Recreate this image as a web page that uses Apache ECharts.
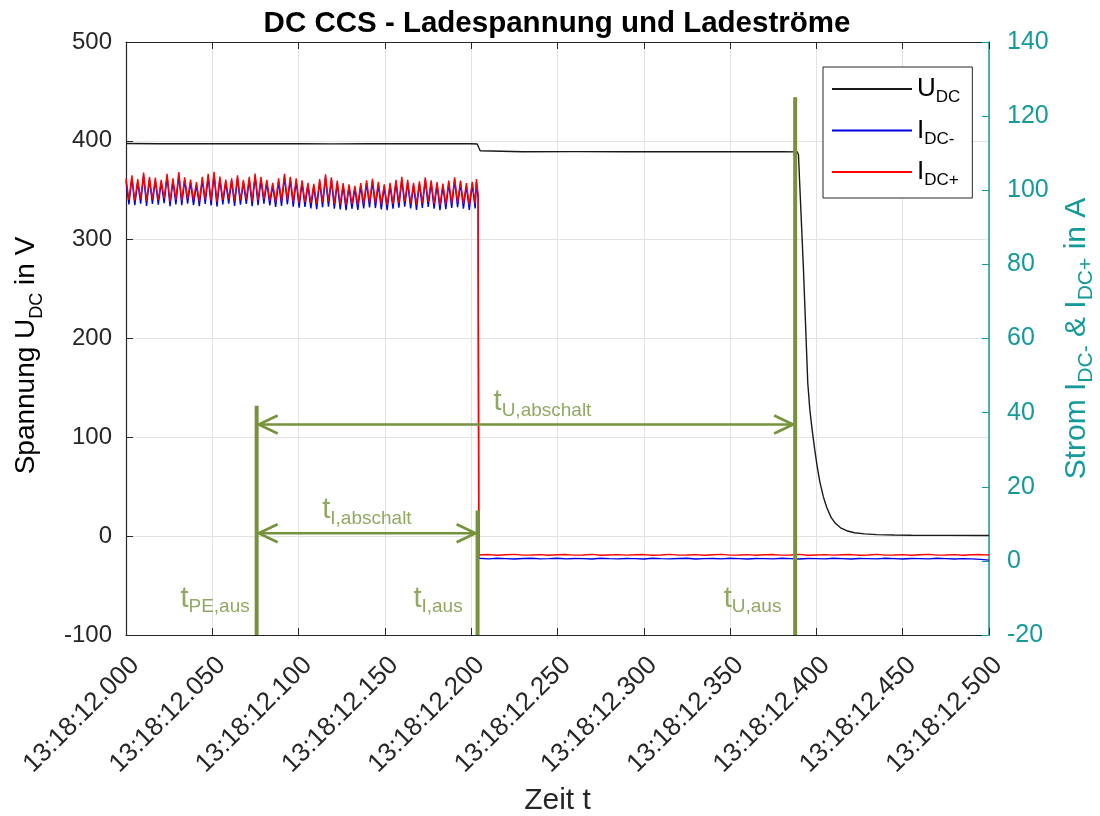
<!DOCTYPE html>
<html>
<head>
<meta charset="utf-8">
<script src="https://cdn.jsdelivr.net/npm/echarts@6/dist/echarts.min.js"></script>
<style>html,body{margin:0;padding:0;background:#fff}#chart{width:1100px;height:816px}</style>
</head>
<body>
<div id="chart"></div>
<script>
// ---------- data ----------
const timeLabels = ['13:18:12.000','13:18:12.050','13:18:12.100','13:18:12.150','13:18:12.200','13:18:12.250','13:18:12.300','13:18:12.350','13:18:12.400','13:18:12.450','13:18:12.500'];
const xTickStep = 0.05; // seconds after 13:18:12.000

// DC voltage (left axis, V)
const uTimes  = [0, 0.02, 0.04, 0.06, 0.08, 0.10, 0.12, 0.14, 0.16, 0.18, 0.20, 0.2035, 0.2043, 0.2052, 0.2062, 0.23, 0.26, 0.29, 0.32, 0.35, 0.38, 0.3890, 0.3896, 0.3925, 0.3950, 0.3962, 0.3975, 0.3990, 0.4005, 0.4020, 0.4040, 0.4060, 0.4085, 0.4110, 0.4140, 0.4175, 0.4220, 0.4280, 0.4350, 0.4450, 0.4550, 0.4750, 0.5000];
const uValues = [397.3, 397.1, 397.2, 397.0, 397.2, 397.1, 396.9, 397.1, 397.0, 397.1, 397.0, 396.8, 393.5, 390.0, 389.3, 389.0, 389.1, 389.0, 388.9, 389.0, 388.9, 388.8, 386, 270, 155, 128, 108, 88, 70, 55, 40, 29, 19, 13, 8.5, 5.5, 3.5, 2.3, 1.6, 1.2, 1.0, 0.8, 0.6];

// Currents (right axis, A): ripple before switch-off, read as alternating peaks / troughs
const rippleHalfPeriod = 0.0017;
const redPeaks = [103.2,104.0,103.0,104.8,103.6,103.4,102.8,104.4,103.2,104.9,103.5,102.9,102.2,103.6,104.4,105.0,103.7,102.9,103.2,104.0,102.8,103.6,104.5,103.6,102.8,102.0,103.2,104.4,103.6,103.2,102.7,102.0,101.7,103.0,104.3,103.5,102.6,101.9,101.6,101.2,101.9,102.7,103.1,102.3,101.6,102.0,102.8,103.6,102.8,102.0,102.4,103.5,102.7,102.2,101.8,102.6,103.5,102.6,101.9,102.3];
const redTroughs = [97.4,97.2,97.6,97.1,97.5,97.3,97.8,97.0,97.4,97.2,97.6,97.3,97.0,97.5,97.2,96.9,97.4,97.6,97.1,97.3,97.5,97.0,97.3,97.6,97.2,96.8,97.1,97.4,96.9,96.6,96.8,96.5,96.3,96.7,96.9,96.4,96.2,96.0,96.3,96.1,96.4,96.7,96.5,96.2,96.0,96.3,96.6,96.9,96.4,96.1,96.5,96.8,96.3,96.0,96.2,96.5,96.7,96.3,96.1,96.4];
const bluePeaks = [102.5,103.3,102.2,104.0,102.9,102.6,102.1,103.7,102.5,104.1,102.8,102.2,101.5,102.9,103.6,104.3,103.0,102.2,102.5,103.3,102.1,102.8,103.8,102.9,102.1,101.3,102.4,103.7,102.9,102.5,102.0,101.3,101.0,102.3,103.5,102.8,101.9,101.2,100.9,100.5,101.2,102.0,102.4,101.6,100.9,101.3,102.1,102.9,102.1,101.3,101.7,102.8,102.0,101.5,101.1,101.9,102.8,101.9,101.2,101.6];
const blueTroughs = [96.2,96.0,96.4,95.8,96.3,96.1,96.5,95.7,96.2,96.0,96.4,96.0,95.7,96.3,95.9,95.6,96.2,96.4,95.8,96.1,96.3,95.7,96.0,96.4,95.9,95.5,95.8,96.2,95.6,95.3,95.5,95.1,94.9,95.4,95.6,95.0,94.8,94.6,95.0,94.7,95.1,95.4,95.2,94.8,94.6,95.0,95.3,95.6,95.1,94.7,95.2,95.5,95.0,94.6,94.9,95.2,95.4,95.0,94.7,95.1];
// switch-off edge
const cutTimes = [0.2030, 0.2040, 0.2044];
const redCut   = [103.0, 99.0, 1.6];
const blueCut  = [102.2, 98.0, 0.7];
// residual current after switch-off
const postStart = 0.205, postStep = 0.005;
const redPost  = [1.6,1.7,1.5,1.65,1.75,1.55,1.6,1.7,1.5,1.65,1.7,1.55,1.6,1.75,1.5,1.6,1.7,1.55,1.65,1.7,1.5,1.6,1.75,1.55,1.6,1.7,1.5,1.65,1.75,1.55,1.6,1.7,1.5,1.65,1.7,1.55,1.6,1.75,1.5,1.6,1.7,1.55,1.65,1.7,1.5,1.6,1.75,1.55,1.6,1.7,1.5,1.65,1.75,1.55,1.6,1.7,1.5,1.65,1.7,1.6];
const bluePost = [0.65,0.55,0.7,0.6,0.5,0.65,0.7,0.55,0.6,0.7,0.55,0.65,0.6,0.5,0.7,0.6,0.55,0.65,0.6,0.5,0.7,0.6,0.55,0.65,0.7,0.5,0.6,0.65,0.55,0.7,0.6,0.5,0.65,0.6,0.55,0.7,0.6,0.5,0.65,0.6,0.55,0.7,0.6,0.5,0.65,0.6,0.55,0.7,0.6,0.5,0.65,0.6,0.55,0.7,0.6,0.5,0.6,0.55,0.4,0.2];

// annotations (x in s, y in V on the left axis)
const eventTimes = [0.0757, 0.2037, 0.3877];
const eventTops  = [132, 26, 444];
const eventBottom = -100;
const arrowDefs  = [[0, 2, 113], [0, 1, 3]]; // [from event, to event, level]
const annoLabels = [[0.2413, 135.5, 'U,abschalt'], [0.1396, 26.5, 'I,abschalt'], [0.0516, -63.3, 'PE,aus'], [0.1808, -63.3, 'I,aus'], [0.3630, -63.3, 'U,aus']];

const seriesNames = ['U_DC', 'I_DC-', 'I_DC+'];
const legendMain = ['U', 'I', 'I'];
const legendSub  = ['DC', 'DC-', 'DC+'];

// ---------- build ----------
function buildCurrent(peaks, troughs, cutT, cutV, post) {
  const out = [];
  for (let i = 0; i < peaks.length; i++) {
    out.push([(2 * i) * rippleHalfPeriod, peaks[i]]);
    out.push([(2 * i + 1) * rippleHalfPeriod, troughs[i]]);
  }
  cutT.forEach((t, i) => out.push([t, cutV[i]]));
  post.forEach((v, i) => out.push([postStart + i * postStep, v]));
  return out;
}
const uData = uTimes.map((t, i) => [t, uValues[i]]);
const redData = buildCurrent(redPeaks, redTroughs, cutTimes, redCut, redPost);
const blueData = buildCurrent(bluePeaks, blueTroughs, cutTimes, blueCut, bluePost);

const segs = eventTimes.map((t, i) => [t, eventBottom, t, eventTops[i], 0]);
arrowDefs.forEach(a => segs.push([eventTimes[a[0]], a[2], eventTimes[a[1]], a[2], 1]));

const GREEN = '#76923C';
const TEAL = '#15999a';
const INK = '#262626';
const FONT = 'Liberation Sans, Arial, Helvetica, sans-serif';

function renderAnno(params, api) {
  const p1 = api.coord([api.value(0), api.value(1)]);
  const p2 = api.coord([api.value(2), api.value(3)]);
  const isArrow = api.value(4) === 1;
  const children = [];
  if (isArrow) {
    const L = 19, H = 9, o = 2;
    const a = p1[0] + o, b = p2[0] - o, y = p1[1];
    children.push({type: 'line', shape: {x1: a, y1: y, x2: b, y2: y}, style: {stroke: GREEN, lineWidth: 2.6}});
    children.push({type: 'polyline', shape: {points: [[a + L, y - H], [a, y], [a + L, y + H]]}, style: {stroke: GREEN, lineWidth: 2.6, fill: null}});
    children.push({type: 'polyline', shape: {points: [[b - L, y - H], [b, y], [b - L, y + H]]}, style: {stroke: GREEN, lineWidth: 2.6, fill: null}});
  } else {
    children.push({type: 'line', shape: {x1: p1[0], y1: p1[1], x2: p2[0], y2: p2[1]}, style: {stroke: GREEN, lineWidth: 4}});
  }
  return {type: 'group', children};
}

const chart = echarts.init(document.getElementById('chart'), null, {renderer: 'canvas'});
chart.setOption({
  animation: false,
  backgroundColor: '#fff',
  textStyle: {fontFamily: FONT},
  title: {
    text: 'DC CCS - Ladespannung und Ladeströme',
    left: 552, top: 4, textAlign: 'center',
    textStyle: {fontSize: 29.5, fontWeight: 'bold', color: '#000', fontFamily: FONT}
  },
  grid: {left: 126, right: 111, top: 42, bottom: 181, containLabel: false, outerBoundsMode: 'none'},
  legend: {
    orient: 'vertical', left: 823, top: 67,
    padding: [9, 12, 9, 9], itemGap: 11.5, itemWidth: 80, itemHeight: 2, icon: 'rect',
    backgroundColor: '#fff', borderColor: INK, borderWidth: 1,
    data: seriesNames,
    formatter: name => {
      const i = seriesNames.indexOf(name);
      return '{m|' + legendMain[i] + '}{s|' + legendSub[i] + '}';
    },
    textStyle: {
      rich: {
        m: {fontSize: 26, lineHeight: 34, color: '#000', fontFamily: FONT},
        s: {fontSize: 17, verticalAlign: 'bottom', color: '#000', fontFamily: FONT}
      }
    }
  },
  xAxis: [{
    type: 'value', min: 0, max: 0.5, interval: xTickStep,
    name: 'Zeit t', nameLocation: 'middle', nameGap: 151,
    nameTextStyle: {fontSize: 30, color: INK, fontFamily: FONT},
    axisLine: {show: true, onZero: false, lineStyle: {color: INK, width: 1.2}},
    axisTick: {show: true, inside: true, length: 7, lineStyle: {color: INK}},
    axisLabel: {
      rotate: 45, fontSize: 26, color: INK, margin: 17, verticalAlign: 'top', fontFamily: FONT,
      formatter: v => timeLabels[Math.round(v / xTickStep)] || ''
    },
    splitLine: {show: true, lineStyle: {color: '#e3e3e3', width: 1}}
  }, {
    type: 'value', position: 'top', min: 0, max: 0.5, interval: xTickStep,
    axisLine: {show: true, onZero: false, lineStyle: {color: INK, width: 1.2}},
    axisTick: {show: true, inside: true, length: 7, lineStyle: {color: INK}},
    axisLabel: {show: false}, splitLine: {show: false}
  }],
  yAxis: [{
    type: 'value', min: -100, max: 500, interval: 100, position: 'left',
    name: '{m|Spannung U}{s|DC}{m| in V}', nameLocation: 'middle', nameGap: 80, nameRotate: 90,
    nameTextStyle: {
      padding: [0, 34, 0, 0],
      rich: {
        m: {fontSize: 28, lineHeight: 40, color: '#000', fontFamily: FONT},
        s: {fontSize: 18, verticalAlign: 'bottom', color: '#000', fontFamily: FONT}
      }
    },
    axisLine: {show: true, onZero: false, lineStyle: {color: INK, width: 1.2}},
    axisTick: {show: true, inside: true, length: 7, lineStyle: {color: INK}},
    axisLabel: {fontSize: 24, color: INK, margin: 14, fontFamily: FONT},
    splitLine: {show: true, lineStyle: {color: '#e3e3e3', width: 1}}
  }, {
    type: 'value', min: -20, max: 140, interval: 20, position: 'right',
    name: '{m|Strom I}{s|DC-}{m| & I}{s|DC+}{m| in A}', nameLocation: 'middle', nameGap: 68, nameRotate: 90,
    nameTextStyle: {
      rich: {
        m: {fontSize: 30, lineHeight: 40, color: TEAL, fontFamily: FONT},
        s: {fontSize: 21, verticalAlign: 'bottom', color: TEAL, fontFamily: FONT}
      }
    },
    axisLine: {show: true, onZero: false, lineStyle: {color: TEAL, width: 1.5}},
    axisTick: {show: true, inside: true, length: 7, lineStyle: {color: TEAL}},
    axisLabel: {fontSize: 25, color: TEAL, margin: 18, fontFamily: FONT},
    splitLine: {show: false}
  }],
  series: [
    {name: 'U_DC', type: 'line', yAxisIndex: 0, data: uData, symbol: 'none', smooth: false,
     lineStyle: {color: '#1a1a1a', width: 1.4}, itemStyle: {color: '#1a1a1a'}, z: 3},
    {name: 'I_DC-', type: 'line', yAxisIndex: 1, data: blueData, symbol: 'none',
     lineStyle: {color: '#0000e6', width: 1.4}, itemStyle: {color: '#0000e6'}, z: 3},
    {name: 'I_DC+', type: 'line', yAxisIndex: 1, data: redData, symbol: 'none',
     lineStyle: {color: '#ff0000', width: 1.4}, itemStyle: {color: '#ff0000'}, z: 4},
    {name: 'anno', type: 'custom', xAxisIndex: 0, yAxisIndex: 0, data: segs, renderItem: renderAnno,
     encode: {x: [0, 2], y: [1, 3]}, clip: false, z: 6, silent: true},
    {name: 'annoText', type: 'scatter', xAxisIndex: 0, yAxisIndex: 0, data: annoLabels, symbolSize: 0, z: 7, silent: true,
     label: {
       show: true, position: 'inside',
       formatter: p => '{t|t}{s|' + p.data[2] + '}',
       rich: {
         t: {fontSize: 29, lineHeight: 36, color: GREEN, fontFamily: FONT},
         s: {fontSize: 19, verticalAlign: 'bottom', color: GREEN, fontFamily: FONT}
       }
     }}
  ]
});
</script>
</body>
</html>
